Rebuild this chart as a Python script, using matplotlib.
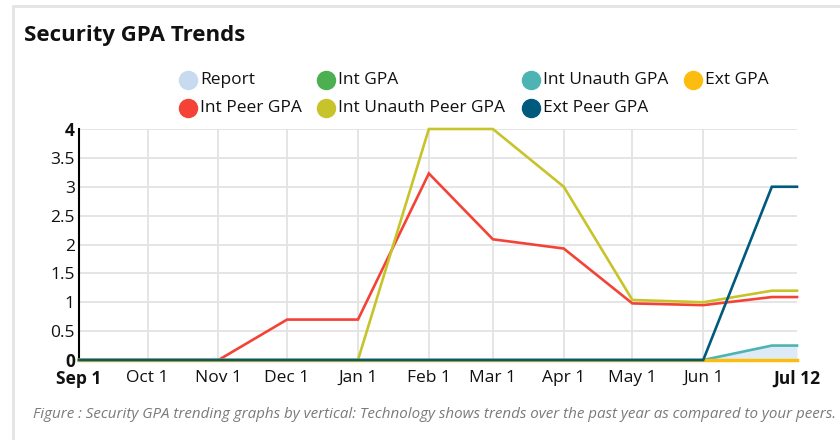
import matplotlib.pyplot as plt
import matplotlib.dates as mdates
from matplotlib.lines import Line2D
from matplotlib.patches import Rectangle
import numpy as np
from datetime import date

plt.rcParams['font.family'] = ['Open Sans', 'DejaVu Sans']

# Data points: first of each month plus Jul 12
dates = [date(2022, 9, 1), date(2022, 10, 1), date(2022, 11, 1), date(2022, 12, 1),
         date(2023, 1, 1), date(2023, 2, 1), date(2023, 3, 1), date(2023, 4, 1),
         date(2023, 5, 1), date(2023, 6, 1), date(2023, 7, 1), date(2023, 7, 12)]

report = [np.nan] * 9 + [0, 0.25, 0.25]
int_gpa = [0] * 12
int_peer_gpa = [0, 0, 0, 0.7, 0.7, 3.23, 2.09, 1.93, 0.98, 0.95, 1.09, 1.09]
int_unauth_gpa = [0] * 10 + [0.25, 0.25]
int_unauth_peer_gpa = [0, 0, 0, 0, 0, 4, 4, 3.0, 1.04, 1.0, 1.2, 1.2]
ext_gpa = [0] * 12
ext_peer_gpa = [0] * 10 + [3.0, 3.0]

tick_dates = [date(2022, 9, 1), date(2022, 10, 1), date(2022, 11, 1), date(2022, 12, 1),
              date(2023, 1, 1), date(2023, 2, 1), date(2023, 3, 1), date(2023, 4, 1),
              date(2023, 5, 1), date(2023, 6, 1), date(2023, 7, 12)]
tick_labels = ["Sep 1", "Oct 1", "Nov 1", "Dec 1", "Jan 1", "Feb 1", "Mar 1",
               "Apr 1", "May 1", "Jun 1", "Jul 12"]
y_ticks = [0, 0.5, 1, 1.5, 2, 2.5, 3, 3.5, 4]
y_labels = ["0", "0.5", "1", "1.5", "2", "2.5", "3", "3.5", "4"]

colors = {
    "Report": "#c6dbef",
    "Int GPA": "#4caf50",
    "Int Unauth GPA": "#4db3b3",
    "Ext GPA": "#fdbd10",
    "Int Peer GPA": "#f44336",
    "Int Unauth Peer GPA": "#c7c42b",
    "Ext Peer GPA": "#005a7e",
}

fig = plt.figure(figsize=(8.4, 4.4), dpi=100)
fig.patches.append(Rectangle((13 / 840, -0.1), 1.0, 1.0 - 6 / 440 + 0.1, transform=fig.transFigure,
                             fill=False, edgecolor="#e4e4e4", linewidth=2))
ax = fig.add_axes([79 / 840, 1 - 360 / 440, (797 - 79) / 840, (360 - 129) / 440])

x = mdates.date2num(dates)
ax.fill_between(x, 0, report, color="#deebf6", linewidth=0, zorder=2)
lw = 1.9
series = [
    (int_gpa, "Int GPA", lw),
    (int_peer_gpa, "Int Peer GPA", lw),
    (int_unauth_gpa, "Int Unauth GPA", lw),
    (int_unauth_peer_gpa, "Int Unauth Peer GPA", lw),
    (ext_gpa, "Ext GPA", lw + 0.6),
    (ext_peer_gpa, "Ext Peer GPA", lw),
]
for i, (vals, name, w) in enumerate(series):
    ax.plot(x, vals, color=colors[name], lw=w, zorder=3 + i * 0.1, clip_on=False,
            solid_joinstyle="miter")

ax.set_xlim(x[0], x[-1])
ax.set_ylim(0, 4)
ax.set_xticks(mdates.date2num(tick_dates))
ax.set_xticklabels(tick_labels, fontsize=12.5, color="#111111")
ax.set_yticks(y_ticks)
ax.set_yticklabels(y_labels, fontsize=12.5, color="#111111")
for lab in (ax.get_xticklabels()[0], ax.get_xticklabels()[-1],
            ax.get_yticklabels()[0], ax.get_yticklabels()[-1]):
    lab.set_fontweight("bold")
ax.tick_params(length=0, pad=3)
ax.tick_params(axis="x", pad=7)
ax.grid(True, color="#e3e3e3", linewidth=1.3, zorder=0)
ax.xaxis.get_gridlines()[-1].set_visible(False)
ax.set_axisbelow(True)
for side in ["top", "right", "bottom"]:
    ax.spines[side].set_visible(False)
ax.spines["left"].set_color("black")
ax.spines["left"].set_linewidth(1.5)

# Legend, laid out by hand in two rows
legend_rows = [["Report", "Int GPA", "Int Unauth GPA", "Ext GPA"],
               ["Int Peer GPA", "Int Unauth Peer GPA", "Ext Peer GPA"]]
legend_x = [188, 326, 531, 693]
legend_y = [80, 108]
for r, row in enumerate(legend_rows):
    for c, name in enumerate(row):
        fx, fy = legend_x[c] / 840, 1 - legend_y[r] / 440
        fig.add_artist(Line2D([fx], [fy], marker="o", markersize=13, linestyle="",
                              markerfacecolor=colors[name], markeredgecolor=colors[name],
                              transform=fig.transFigure))
        fig.text(fx + 12 / 840, fy, name, fontsize=12.5, va="center", ha="left",
                 color="#111111")

fig.text(24 / 840, 1 - 35 / 440, "Security GPA Trends", fontsize=16, fontweight="bold",
         va="center", ha="left", color="#111111")
fig.text(33 / 840, 1 - 414 / 440,
         "Figure : Security GPA trending graphs by vertical: Technology shows trends over the past year as compared to your peers.",
         fontsize=10.9, style="italic", color="#7a7a7a", va="center", ha="left")

fig.savefig("out.png", dpi=100)
